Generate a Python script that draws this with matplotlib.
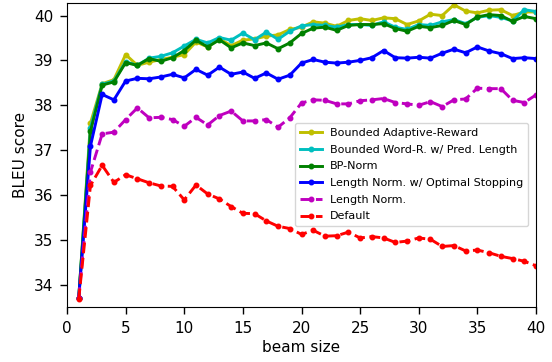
import matplotlib
matplotlib.use("Agg")
import matplotlib.pyplot as plt

beam = list(range(1, 41))

bounded_adaptive = [33.7, 37.60, 38.48, 38.57, 39.13, 38.89, 38.96, 39.02, 39.07, 39.13,
                    39.41, 39.30, 39.48, 39.33, 39.45, 39.48, 39.54, 39.57, 39.69, 39.74,
                    39.86, 39.83, 39.76, 39.89, 39.93, 39.89, 39.95, 39.93, 39.80, 39.88,
                    40.03, 40.00, 40.24, 40.10, 40.06, 40.12, 40.13, 40.00, 40.08, 40.08]
bounded_word = [33.7, 37.50, 38.47, 38.54, 38.97, 38.89, 39.05, 39.09, 39.17, 39.32,
                39.47, 39.39, 39.51, 39.45, 39.61, 39.46, 39.63, 39.47, 39.65, 39.77,
                39.80, 39.78, 39.74, 39.80, 39.80, 39.78, 39.86, 39.74, 39.69, 39.80,
                39.78, 39.86, 39.91, 39.82, 39.96, 40.00, 39.96, 39.88, 40.13, 40.09]
bp_norm = [33.7, 37.42, 38.45, 38.52, 38.95, 38.89, 39.04, 38.98, 39.06, 39.22,
           39.45, 39.30, 39.46, 39.28, 39.39, 39.33, 39.39, 39.26, 39.39, 39.60,
           39.72, 39.74, 39.67, 39.78, 39.80, 39.80, 39.82, 39.71, 39.65, 39.76,
           39.73, 39.78, 39.89, 39.80, 39.97, 40.02, 40.00, 39.87, 39.98, 39.93]
len_norm_opt = [33.7, 37.09, 38.24, 38.12, 38.54, 38.60, 38.59, 38.63, 38.69, 38.61,
                38.80, 38.67, 38.85, 38.69, 38.74, 38.60, 38.72, 38.58, 38.67, 38.94,
                39.02, 38.96, 38.94, 38.96, 39.00, 39.06, 39.22, 39.06, 39.05, 39.07,
                39.05, 39.16, 39.25, 39.17, 39.30, 39.21, 39.15, 39.04, 39.06, 39.04]
len_norm = [33.7, 36.51, 37.36, 37.40, 37.68, 37.94, 37.72, 37.73, 37.68, 37.53,
            37.73, 37.56, 37.77, 37.87, 37.65, 37.65, 37.68, 37.51, 37.72, 38.05,
            38.12, 38.11, 38.03, 38.03, 38.10, 38.12, 38.15, 38.06, 38.03, 38.00,
            38.08, 37.97, 38.12, 38.14, 38.38, 38.37, 38.37, 38.11, 38.06, 38.23]
default = [33.67, 36.21, 36.66, 36.28, 36.45, 36.36, 36.27, 36.20, 36.19, 35.89,
           36.22, 36.02, 35.91, 35.74, 35.59, 35.58, 35.42, 35.30, 35.25, 35.12,
           35.21, 35.08, 35.09, 35.17, 35.04, 35.07, 35.04, 34.94, 34.97, 35.04,
           35.01, 34.85, 34.87, 34.75, 34.77, 34.71, 34.63, 34.58, 34.52, 34.42]

labels = ["Bounded Adaptive-Reward", "Bounded Word-R. w/ Pred. Length", "BP-Norm",
          "Length Norm. w/ Optimal Stopping", "Length Norm.", "Default"]
series = [bounded_adaptive, bounded_word, bp_norm, len_norm_opt, len_norm, default]
colors = ["y", "c", "g", "b", "m", "r"]
styles = ["-", "-", "-", "-", "--", "--"]

fig = plt.figure(figsize=(5.52, 3.62), dpi=100)
ax = fig.add_axes([67 / 552, 55 / 362, 469 / 552, 304 / 362])

for vals, lab, c, ls in zip(series, labels, colors, styles):
    ax.plot(beam, vals, ls, color=c, marker=".", markersize=6.5, lw=2.1, label=lab)

ax.set_xlim(0, 40)
ax.set_ylim(33.5, 40.28)
ax.set_xticks(range(0, 41, 5))
ax.set_yticks(range(34, 41))
ax.tick_params(labelsize=11, length=5, width=1, pad=5)
ax.set_xlabel("beam size", fontsize=11, labelpad=3)
ax.set_ylabel("BLEU score", fontsize=11, labelpad=4)

ax.legend(loc="upper right", bbox_to_anchor=(0.983, 0.605), fontsize=8,
          labelspacing=0.6, handlelength=2.0, handletextpad=0.7,
          borderaxespad=0.0, borderpad=0.45)

fig.savefig("out.png", dpi=100)
